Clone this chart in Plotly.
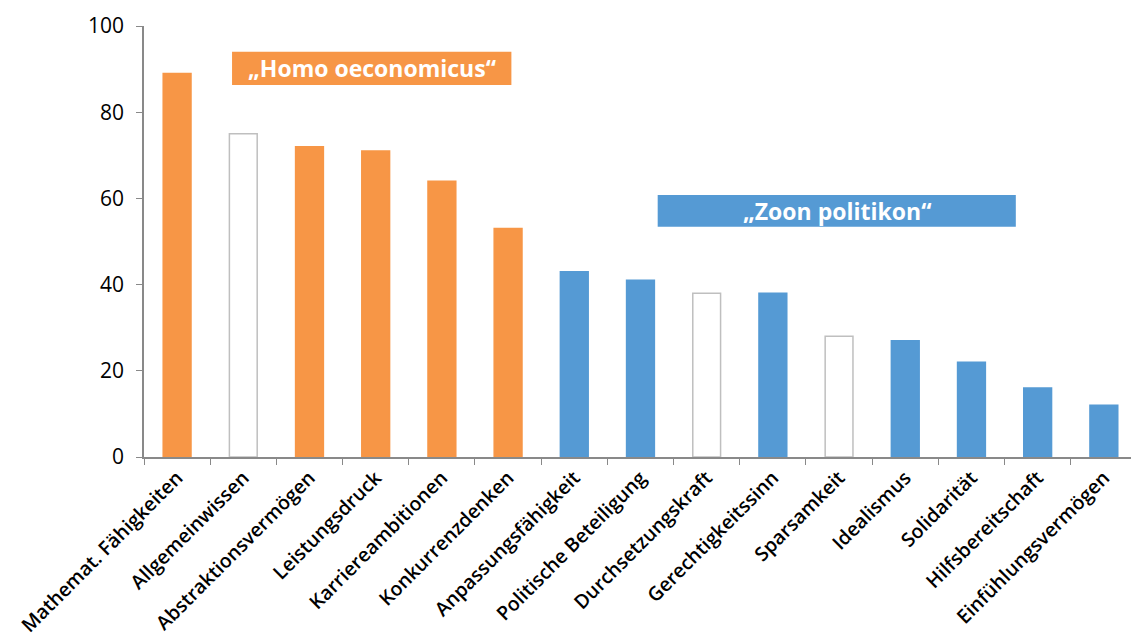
import plotly.graph_objects as go

categories = ["Mathemat. Fähigkeiten", "Allgemeinwissen", "Abstraktionsvermögen", "Leistungsdruck",
              "Karriereambitionen", "Konkurrenzdenken", "Anpassungsfähigkeit", "Politische Beteiligung",
              "Durchsetzungskraft", "Gerechtigkeitssinn", "Sparsamkeit", "Idealismus", "Solidarität",
              "Hilfsbereitschaft", "Einfühlungsvermögen"]
values = [89, 75, 72, 71, 64, 53, 43, 41, 38, 38, 28, 27, 22, 16, 12]
groups = ["homo", "none", "homo", "homo", "homo", "homo", "zoon", "zoon", "none", "zoon",
          "none", "zoon", "zoon", "zoon", "zoon"]
y_ticks = [0, 20, 40, 60, 80, 100]

ORANGE = "#F79646"
BLUE = "#559AD4"
fill = {"homo": ORANGE, "zoon": BLUE, "none": "white"}
line = {"homo": ORANGE, "zoon": BLUE, "none": "#BFBFBF"}

fig = go.Figure(go.Bar(
    x=categories, y=values,
    marker=dict(color=[fill[g] for g in groups],
                line=dict(color=[line[g] for g in groups], width=1.5)),
    width=0.42,
))

# label boxes
fig.add_shape(type="rect", xref="x", yref="y", x0=0.83, x1=5.05, y0=86.3, y1=94,
              fillcolor=ORANGE, line=dict(width=0), layer="below")
fig.add_annotation(x=2.94, y=90.15, xref="x", yref="y", text="<b>„Homo oeconomicus“</b>",
                   showarrow=False, font=dict(color="white", size=23, family="Open Sans"))
fig.add_shape(type="rect", xref="x", yref="y", x0=7.26, x1=12.67, y0=53.4, y1=60.8,
              fillcolor=BLUE, line=dict(width=0), layer="below")
fig.add_annotation(x=9.965, y=57.1, xref="x", yref="y", text="<b>„Zoon politikon“</b>",
                   showarrow=False, font=dict(color="white", size=23, family="Open Sans"))

fig.update_layout(
    width=1131, height=644,
    margin=dict(l=144, r=0, t=26, b=187),
    plot_bgcolor="white", paper_bgcolor="white",
    showlegend=False,
    font=dict(family="Open Sans", color="black"),
    xaxis=dict(showline=True, linecolor="#898989", linewidth=1.5, automargin=False,
               range=[-0.5, 14.41],
               ticks="outside", tickson="boundaries", ticklen=6, tickcolor="#898989",
               tickangle=-45, tickfont=dict(size=19.5, family="Open Sans", weight=600), showgrid=False),
    yaxis=dict(range=[0, 100], tickvals=y_ticks, showline=True, linecolor="#898989", linewidth=1.5,
               automargin=False, ticks="outside", ticklen=6, tickcolor="#898989", showgrid=False,
               zeroline=False, ticklabelstandoff=8, tickfont=dict(size=21, family="Open Sans")),
    bargap=0.58,
)

fig.write_html("out.html", config={"displayModeBar": False},
               post_script="document.body.style.margin='0';document.body.style.overflow='hidden';")
